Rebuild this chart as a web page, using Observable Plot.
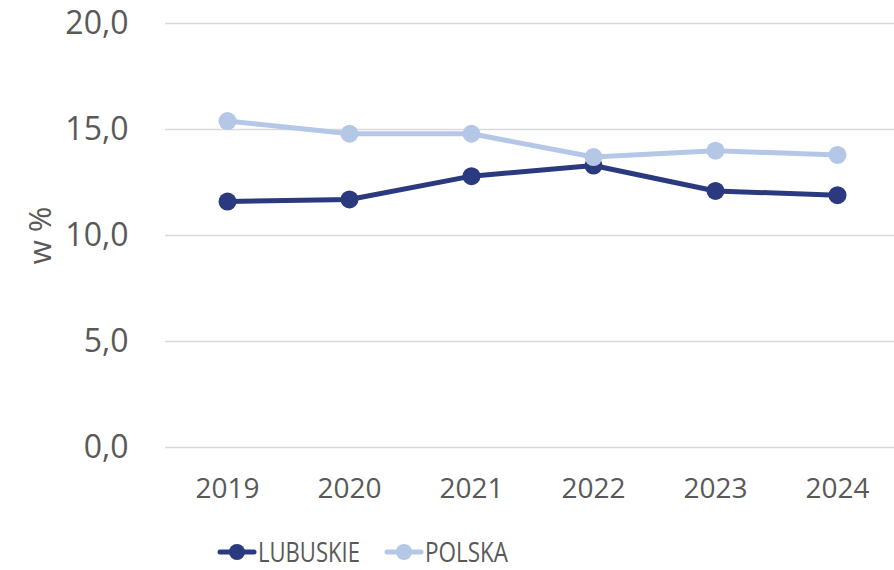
<!DOCTYPE html>
<html>
<head>
<meta charset="utf-8">
<script src="https://cdn.jsdelivr.net/npm/d3@7"></script>
<script src="https://cdn.jsdelivr.net/npm/@observablehq/plot@0.6"></script>
<style>
  html, body { margin: 0; padding: 0; background: #fff; overflow: hidden; }
  #wrap { position: relative; width: 894px; height: 570px; }
  #legend { position: absolute; left: 0; top: 510px; }
</style>
</head>
<body>
<div id="wrap"><div id="chart"></div></div>
<script>
const years = ["2019", "2020", "2021", "2022", "2023", "2024"];
const lubuskie = [11.6, 11.7, 12.8, 13.3, 12.1, 11.9];
const polska = [15.4, 14.8, 14.8, 13.7, 14.0, 13.8];
const series = ["LUBUSKIE", "POLSKA"];
const colors = ["#2b3a7e", "#b4c7e7"];
const yTicks = [0, 5, 10, 15, 20];
const yLabel = "w %";

const data = [];
years.forEach((y, i) => data.push({year: y, value: lubuskie[i], series: series[0]}));
years.forEach((y, i) => data.push({year: y, value: polska[i], series: series[1]}));

const fmt = d => d.toFixed(1).replace(".", ",");

const chart = Plot.plot({
  width: 894,
  height: 510,
  marginTop: 23,
  marginBottom: 63,
  marginLeft: 165,
  marginRight: 0,
  style: {fontFamily: "'Open Sans', sans-serif", color: "#595959", background: "#fff"},
  x: {type: "point", domain: years, range: [227, 837], padding: 0},
  y: {domain: [0, 20], ticks: yTicks},
  color: {domain: series, range: colors},
  marks: [
    Plot.ruleY(yTicks, {stroke: "#d9d9d9", strokeWidth: 1.5}),
    Plot.axisX({tickSize: 0, tickPadding: 31, fontSize: 28, fill: "#595959", label: null}),
    Plot.axisY({ticks: yTicks, tickSize: 0, tickPadding: 37, fontSize: 32, fill: "#595959", tickFormat: fmt, label: null}),
    Plot.text([yLabel], {frameAnchor: "left", dx: -124, rotate: -90, textAnchor: "middle", fontSize: 31, fill: "#595959"}),
    Plot.line(data, {x: "year", y: "value", z: "series", stroke: "series", strokeWidth: 5}),
    Plot.dot(data, {x: "year", y: "value", fill: "series", r: 9, stroke: "none"})
  ]
});
document.getElementById("chart").appendChild(chart);

// legend
const wrap = document.getElementById("wrap");
const svgNS = "http://www.w3.org/2000/svg";
const lg = document.createElementNS(svgNS, "svg");
lg.setAttribute("id", "legend");
lg.setAttribute("width", 894);
lg.setAttribute("height", 60);
const lefts = [217, 384];
const textLens = [102, 83];
series.forEach((s, i) => {
  const x0 = lefts[i];
  lg.insertAdjacentHTML("beforeend",
    `<line x1="${x0 + 3}" y1="42" x2="${x0 + 37}" y2="42" stroke="${colors[i]}" stroke-width="5" stroke-linecap="round"/>` +
    `<circle cx="${x0 + 20}" cy="42" r="8" fill="${colors[i]}"/>`);
  const t = document.createElementNS(svgNS, "text");
  t.setAttribute("x", x0 + 41);
  t.setAttribute("y", 52);
  t.setAttribute("font-family", "Open Sans, sans-serif");
  t.setAttribute("font-size", 28);
  t.setAttribute("fill", "#595959");
  t.setAttribute("textLength", textLens[i]);
  t.setAttribute("lengthAdjust", "spacingAndGlyphs");
  t.textContent = s;
  lg.appendChild(t);
});
wrap.appendChild(lg);
</script>
</body>
</html>
